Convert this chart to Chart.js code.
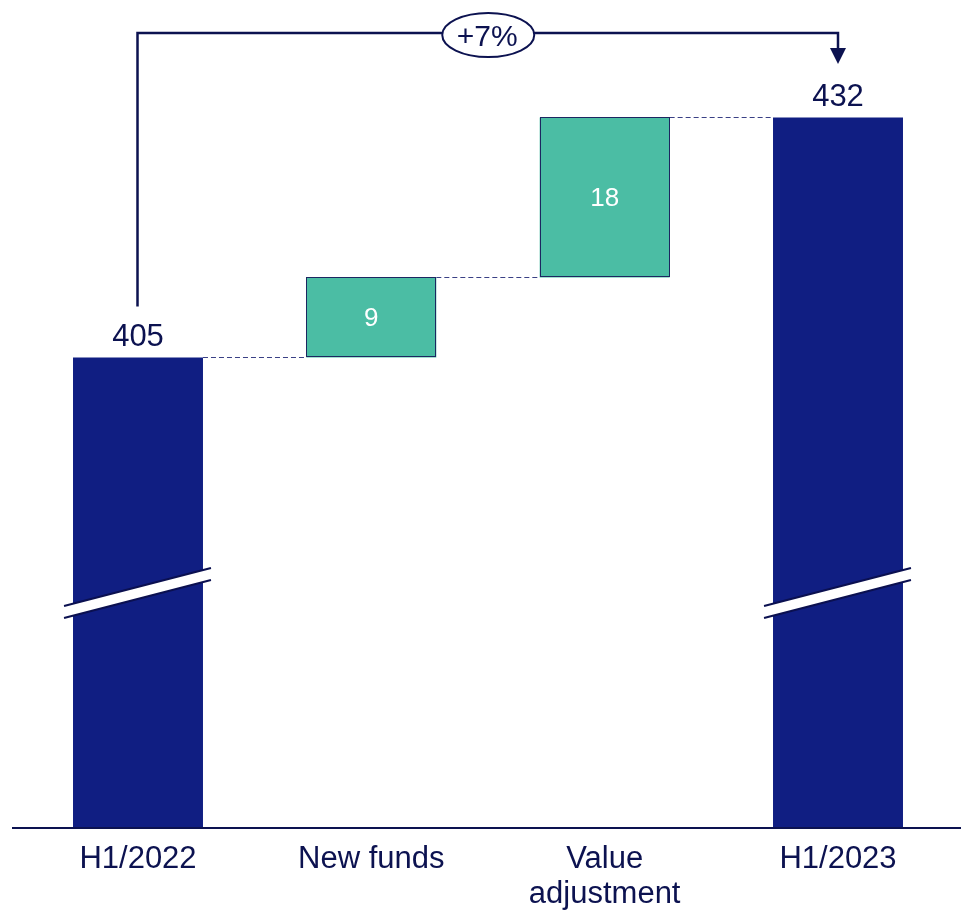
<!DOCTYPE html>
<html>
<head>
<meta charset="utf-8">
<title>H1/2022 to H1/2023 bridge</title>
<script src="https://cdn.jsdelivr.net/npm/chart.js@4.4.1/dist/chart.umd.min.js"></script>
<style>
  html, body { margin: 0; padding: 0; background: #ffffff; }
  #wrap { width: 961px; height: 915px; }
</style>
</head>
<body>
<div id="wrap"><canvas id="chart" width="961" height="915"></canvas></div>
<script>
// Categories along the bridge
const categories = ['H1/2022', 'New funds', ['Value', 'adjustment'], 'H1/2023'];
// Period totals (start, end)
const startTotal = 405;
const endTotal = 432;
// Movements between the two periods
const changes = [9, 18];
// Visible value window of the broken axis
const axisMin = 352.2;
const axisMax = 445.2;

const NAVY = '#101e82';
const TEAL = '#4bbda4';
const INK = '#0c1250';
const FONT = '"Liberation Sans", Arial, sans-serif';

// Build floating ranges for the movement bars
const steps = [];
let running = startTotal;
changes.forEach(c => { steps.push([running, running + c]); running += c; });
const barData = [startTotal, ...steps, endTotal];
const isTotal = [true, false, false, true];
const growthPct = Math.round((endTotal / startTotal - 1) * 100);

const bridgePlugin = {
  id: 'bridge',
  beforeDatasetsDraw(chart) {
    const ctx = chart.ctx;
    const bars = chart.getDatasetMeta(0).data;
    const y = chart.scales.y;
    // dashed links from each bar's end to the next bar's start
    ctx.save();
    ctx.strokeStyle = '#3a4085';
    ctx.lineWidth = 1;
    ctx.setLineDash([5, 3]);
    const ends = [startTotal, steps[0][1], steps[1][1]];
    for (let i = 0; i < 3; i++) {
      const a = bars[i], b = bars[i + 1];
      const py = Math.round(y.getPixelForValue(ends[i])) + 0.5;
      ctx.beginPath();
      ctx.moveTo(a.x + a.width / 2, py);
      ctx.lineTo(b.x - b.width / 2, py);
      ctx.stroke();
    }
    ctx.restore();
  },
  afterDatasetsDraw(chart) {
    const ctx = chart.ctx;
    const bars = chart.getDatasetMeta(0).data;
    const area = chart.chartArea;

    // outline on the movement bars
    ctx.save();
    ctx.strokeStyle = '#1c2660';
    ctx.lineWidth = 1;
    bars.forEach((bar, i) => {
      if (isTotal[i]) return;
      const l = Math.round(bar.x - bar.width / 2) + 0.5;
      const r = Math.round(bar.x + bar.width / 2) - 0.5;
      const t = Math.round(bar.y) + 0.5;
      const b = Math.round(bar.base) - 0.5;
      ctx.strokeRect(l, t, r - l, b - t);
    });
    ctx.restore();

    // axis-break marks on the total bars
    bars.forEach((bar, i) => {
      if (!isTotal[i]) return;
      const x0 = bar.x - bar.width / 2 - 9;
      const x1 = bar.x + bar.width / 2 + 8;
      const yl = area.bottom - 221;   // left end, upper edge
      const yr = area.bottom - 259;   // right end, upper edge
      const t = 12;
      ctx.save();
      ctx.fillStyle = '#ffffff';
      ctx.beginPath();
      ctx.moveTo(x0, yl); ctx.lineTo(x1, yr);
      ctx.lineTo(x1, yr + t); ctx.lineTo(x0, yl + t);
      ctx.closePath();
      ctx.fill();
      ctx.strokeStyle = '#0b1050';
      ctx.lineWidth = 2;
      ctx.beginPath();
      ctx.moveTo(x0, yl); ctx.lineTo(x1, yr);
      ctx.moveTo(x0, yl + t); ctx.lineTo(x1, yr + t);
      ctx.stroke();
      ctx.restore();
    });

    // value labels
    ctx.save();
    ctx.textAlign = 'center';
    ctx.textBaseline = 'alphabetic';
    bars.forEach((bar, i) => {
      if (isTotal[i]) {
        ctx.fillStyle = INK;
        ctx.font = '31px ' + FONT;
        ctx.fillText(String(barData[i]), bar.x, bar.y - 11);
      } else {
        const v = barData[i][1] - barData[i][0];
        ctx.fillStyle = '#ffffff';
        ctx.font = '26px ' + FONT;
        ctx.textBaseline = 'middle';
        ctx.fillText(String(v), bar.x, (bar.y + bar.base) / 2 + 1);
        ctx.textBaseline = 'alphabetic';
      }
    });
    ctx.restore();

    // growth bracket with arrow
    const first = bars[0], last = bars[3];
    const topY = 33;
    const xa = Math.round(first.x) - 0.5, xb = Math.round(last.x);
    ctx.save();
    ctx.strokeStyle = INK;
    ctx.fillStyle = INK;
    ctx.lineWidth = 2.5;
    ctx.beginPath();
    ctx.moveTo(xa, first.y - 51);
    ctx.lineTo(xa, topY);
    ctx.lineTo(xb, topY);
    ctx.lineTo(xb, 50);
    ctx.stroke();
    ctx.beginPath();
    ctx.moveTo(xb - 8, 48);
    ctx.lineTo(xb + 8, 48);
    ctx.lineTo(xb, 64);
    ctx.closePath();
    ctx.fill();
    // oval badge
    const cx = (xa + xb) / 2 + 0.5;
    ctx.beginPath();
    ctx.ellipse(cx, 35, 46, 22, 0, 0, Math.PI * 2);
    ctx.fillStyle = '#ffffff';
    ctx.fill();
    ctx.lineWidth = 2;
    ctx.stroke();
    ctx.fillStyle = INK;
    ctx.font = '30px ' + FONT;
    ctx.textAlign = 'center';
    ctx.textBaseline = 'alphabetic';
    ctx.fillText('+' + growthPct + '%', cx - 1, 46);
    ctx.restore();

    // baseline
    ctx.save();
    ctx.strokeStyle = INK;
    ctx.lineWidth = 2;
    ctx.beginPath();
    ctx.moveTo(12, area.bottom + 1);
    ctx.lineTo(961, area.bottom + 1);
    ctx.stroke();
    ctx.restore();
  }
};

new Chart(document.getElementById('chart'), {
  type: 'bar',
  data: {
    labels: categories,
    datasets: [{
      data: barData,
      backgroundColor: isTotal.map(t => t ? NAVY : TEAL),
      borderWidth: 0,
      barPercentage: 0.557,
      categoryPercentage: 1.0
    }]
  },
  options: {
    responsive: false,
    devicePixelRatio: 1,
    animation: false,
    layout: { padding: { left: 21.33, right: 6.33, top: 0, bottom: 0 } },
    plugins: { legend: { display: false }, tooltip: { enabled: false } },
    scales: {
      x: {
        grid: { display: false, drawTicks: false },
        border: { display: false },
        ticks: {
          color: INK,
          font: { family: FONT, size: 31, lineHeight: 1.16 },
          padding: 14,
          maxRotation: 0,
          autoSkip: false
        },
        afterFit(scale) { scale.height = 88; }
      },
      y: {
        display: false,
        min: axisMin,
        max: axisMax
      }
    }
  },
  plugins: [bridgePlugin]
});
</script>
</body>
</html>
